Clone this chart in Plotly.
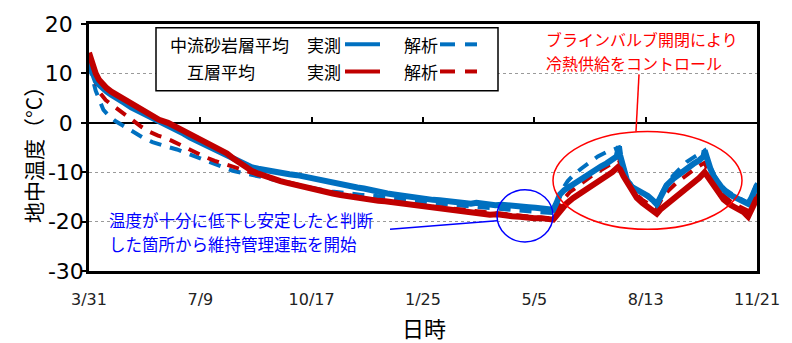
import plotly.graph_objects as go

# ---------------- data (day offset from 3/31, value in °C) ----------------
blue_meas_day = [0, 2, 4, 6, 8, 12, 16, 20, 26, 32, 38, 48, 56, 63, 71, 78, 85, 91, 98, 105, 112, 118, 124, 130, 136, 141,
                 146, 152, 158, 165, 172, 180, 187, 193, 199, 205, 210, 216, 222, 228, 235, 241, 247, 252, 257, 263, 268,
                 274, 279, 285, 291, 297, 303, 309, 315, 321, 327, 333, 338, 343, 348, 353, 359, 365, 371, 377, 383, 389,
                 395, 401, 407, 413, 417, 420, 423, 427, 431, 435, 440, 445, 450, 455, 460, 465, 470, 474, 476, 477, 480,
                 483, 487, 492, 497, 502, 507, 510, 513, 516, 519, 525, 531, 537, 543, 548, 552, 553, 555, 558, 561, 565,
                 570, 576, 582, 588, 592, 595, 598, 600]
blue_meas_val = [12.2, 10.6, 9.3, 8.5, 7.9, 7.0, 6.3, 5.7, 5.0, 4.0, 3.1, 2.0, 1.0, 0.3, -0.4, -1.3, -2.2, -3.0, -3.8, -4.6,
                 -5.3, -5.9, -6.6, -7.4, -8.1, -8.6, -9.0, -9.3, -9.6, -9.9, -10.2, -10.4, -10.6, -10.9, -11.0, -11.4,
                 -11.5, -11.9, -12.2, -12.4, -12.9, -13.1, -13.3, -13.6, -13.8, -14.0, -14.3, -14.5, -14.7, -14.9, -15.0,
                 -15.3, -15.4, -15.6, -15.7, -15.9, -16.0, -16.2, -16.3, -16.4, -16.2, -16.4, -16.5, -16.7, -16.6, -16.8,
                 -16.9, -16.9, -17.1, -17.2, -17.3, -17.4, -17.6, -16.2, -14.5, -13.6, -13.0, -12.4, -11.5, -10.8, -10.2,
                 -9.4, -8.8, -8.2, -7.5, -6.8, -4.8, -6.5, -9.0, -11.5, -12.9, -13.6, -14.0, -14.8, -15.8, -16.5, -15.2,
                 -13.8, -12.6, -11.3, -10.2, -9.2, -8.3, -7.6, -6.8, -5.6, -7.2, -9.2, -10.8, -12.2, -13.6, -14.6, -15.3,
                 -15.9, -16.4, -15.2, -13.8, -12.6]

red_meas_day = [0, 2, 4, 6, 9, 12, 16, 20, 26, 32, 38, 48, 56, 63, 71, 78, 85, 91, 98, 105, 112, 118, 124, 130, 136, 141,
                146, 152, 158, 165, 172, 179, 186, 192, 199, 205, 212, 219, 226, 233, 240, 247, 253, 260, 266, 273, 279,
                286, 293, 300, 307, 315, 322, 329, 335, 342, 348, 354, 360, 367, 373, 380, 387, 393, 400, 406, 412, 417,
                420, 423, 429, 435, 442, 450, 457, 465, 470, 475, 477, 480, 483, 487, 492, 497, 502, 507, 510, 513, 519,
                525, 531, 537, 543, 548, 553, 556, 561, 565, 570, 576, 582, 588, 592, 595, 600]
red_meas_val = [14.2, 12.8, 11.2, 10.0, 8.7, 7.9, 7.0, 6.3, 5.5, 4.5, 3.6, 2.5, 1.4, 0.6, 0.0, -0.8, -1.6, -2.4, -3.2, -4.0,
                -4.7, -5.3, -6.2, -7.3, -8.3, -9.0, -9.7, -10.3, -10.8, -11.3, -11.8, -12.2, -12.6, -13.0, -13.2, -13.6,
                -13.9, -14.3, -14.6, -14.9, -15.1, -15.4, -15.6, -15.8, -15.9, -16.1, -16.3, -16.6, -16.8, -17.0, -17.1,
                -17.4, -17.6, -17.9, -18.1, -18.3, -18.2, -18.4, -18.6, -18.5, -18.8, -18.9, -19.0, -19.2, -19.3, -19.3,
                -19.5, -19.6, -18.8, -17.8, -16.3, -15.2, -14.2, -13.1, -12.0, -10.9, -10.0, -9.0, -9.4, -10.8, -12.0,
                -13.6, -15.2, -16.2, -17.2, -18.0, -18.4, -17.6, -16.5, -15.5, -14.5, -13.4, -12.3, -11.2, -10.0, -11.0,
                -12.8, -14.2, -15.5, -16.6, -17.4, -18.1, -19.0, -17.4, -15.2]

blue_calc_day = [0, 3, 6, 9, 13, 18, 24, 30, 36, 43, 50, 57, 64, 71, 79, 86, 93, 100, 107, 113, 121, 129, 137, 146, 160,
                 175, 190, 205, 218, 230, 245, 258, 270, 285, 300, 320, 340, 360, 380, 400, 417, 420, 425, 430, 435, 442,
                 450, 457, 465, 472, 476, 479, 483, 488, 493, 500, 506, 510, 514, 519, 525, 531, 537, 543, 549, 553, 556,
                 561, 566, 572, 580, 588, 592, 596, 600]
blue_calc_val = [12.0, 9.0, 6.5, 4.8, 2.6, 1.4, 0.3, -0.5, -1.3, -2.3, -3.2, -3.9, -4.5, -4.9, -5.4, -6.0, -6.6, -7.2,
                 -7.8, -8.3, -9.0, -9.7, -10.1, -10.5, -11.2, -12.0, -12.8, -13.4, -13.9, -14.3, -14.6, -14.8, -15.2,
                 -15.6, -16.0, -16.5, -16.9, -17.3, -17.7, -18.0, -18.3, -16.5, -13.5, -11.8, -10.6, -9.3, -7.9, -6.8,
                 -5.9, -5.2, -5.0, -8.0, -11.0, -12.8, -13.8, -14.8, -15.6, -16.1, -14.4, -12.2, -10.6, -9.2, -7.9, -7.0,
                 -6.1, -5.6, -7.6, -10.4, -12.2, -13.6, -14.8, -15.7, -16.2, -14.4, -12.2]

red_calc_day = [0, 3, 6, 10, 15, 19, 26, 33, 40, 47, 55, 62, 68, 75, 82, 90, 97, 104, 113, 121, 129, 137, 146, 160, 175,
                190, 205, 220, 240, 260, 280, 300, 320, 340, 360, 380, 400, 417, 420, 425, 432, 440, 450, 458, 465, 472,
                476, 480, 484, 490, 497, 504, 510, 514, 520, 527, 535, 543, 549, 553, 557, 562, 568, 575, 583, 590, 593,
                597, 600]
red_calc_val = [14.0, 11.0, 8.2, 6.0, 4.6, 3.9, 2.8, 1.6, 0.4, -0.8, -1.9, -2.6, -3.0, -3.7, -4.5, -5.2, -6.0, -6.9, -7.7,
                -8.3, -8.9, -9.5, -10.1, -11.0, -11.9, -12.7, -13.5, -14.2, -15.0, -15.7, -16.3, -16.8, -17.3, -17.8,
                -18.3, -18.7, -19.1, -19.4, -18.0, -15.8, -14.0, -12.6, -11.0, -9.8, -8.8, -7.9, -7.6, -10.0, -12.3,
                -14.2, -15.6, -16.6, -17.3, -15.6, -13.8, -12.3, -10.8, -9.5, -8.6, -8.1, -10.2, -12.6, -14.3, -15.7,
                -16.8, -17.6, -17.9, -16.0, -14.3]

x_tick_days = [0, 100, 200, 300, 400, 500, 600]
x_tick_labels = ["3/31", "7/9", "10/17", "1/25", "5/5", "8/13", "11/21"]
y_tick_vals = [20, 10, 0, -10, -20, -30]
y_tick_labels = ["20\u2002", "10\u2002", "0\u2002", "-10", "-20", "-30"]

series_names = ["中流砂岩層平均", "互層平均"]
kind_names = ["実測", "解析"]

BLUE = "#0070C0"
RED = "#C00000"
JP = "Noto Sans CJK JP"
NUM = "DejaVu Sans"

fig = go.Figure()
fig.add_trace(go.Scatter(x=blue_calc_day, y=blue_calc_val, mode="lines",
                         line=dict(color=BLUE, width=4, dash="12px,9px"), name="中流砂岩層平均 解析"))
fig.add_trace(go.Scatter(x=red_calc_day, y=red_calc_val, mode="lines",
                         line=dict(color=RED, width=4, dash="12px,9px"), name="互層平均 解析"))
fig.add_trace(go.Scatter(x=blue_meas_day, y=blue_meas_val, mode="lines",
                         line=dict(color=BLUE, width=6), name="中流砂岩層平均 実測"))
fig.add_trace(go.Scatter(x=red_meas_day, y=red_meas_val, mode="lines", xaxis="x2",
                         line=dict(color=RED, width=6), name="互層平均 実測"))

L, R, T, B = 89, 35, 16, 72
W, H = 792, 343
pw, ph = W - L - R, H - T - B


def px(xp):
    return (xp - L) / pw


def py(yp):
    return (H - B - yp) / ph


fig.update_layout(
    width=W, height=H, margin=dict(l=L, r=R, t=T, b=B),
    paper_bgcolor="white", plot_bgcolor="white", showlegend=False,
    xaxis=dict(range=[0, 600], tickvals=x_tick_days, ticktext=x_tick_labels, showline=True, mirror=True,
               linecolor="black", linewidth=2.5, ticks="", showgrid=False, zeroline=False,
               tickfont=dict(family=NUM, size=16, color="#222"), ticklabelstandoff=12),
    xaxis2=dict(range=[0, 600], overlaying="x", anchor="free", position=0.6, side="bottom",
                tickvals=x_tick_days, showticklabels=False, ticks="inside", ticklen=6, tickwidth=2,
                tickcolor="black", showline=False, showgrid=False, zeroline=False),
    yaxis=dict(range=[-30, 20], tickvals=y_tick_vals, ticktext=y_tick_labels, showline=True, mirror=True,
               linecolor="black", linewidth=2.5, ticks="outside", ticklen=5, tickwidth=2, tickcolor="black",
               showgrid=True, gridcolor="#9a9a9a", griddash="dot", gridwidth=1,
               zeroline=True, zerolinecolor="black", zerolinewidth=2, ticklabelstandoff=-7,
               tickfont=dict(family=NUM, size=22, color="black")),
)

shapes = []
annots = []


def label(xp, yp, text, size, color, **kw):
    d = dict(x=px(xp), y=py(yp), xref="paper", yref="paper", text=text, showarrow=False,
             xanchor="left", yanchor="middle", font=dict(family=JP, size=size, color=color))
    d.update(kw)
    annots.append(d)


# legend box
shapes.append(dict(type="rect", xref="paper", yref="paper", x0=px(156), x1=px(498), y0=py(85), y1=py(20),
                   line=dict(color="black", width=1.5), fillcolor="white", layer="above"))
rows = [(37, BLUE), (65, RED)]
name_left = [168, 185]
for i, (yp, col) in enumerate(rows):
    label(name_left[i], yp, series_names[i], 17, "black")
    label(305, yp, kind_names[0], 17, "black")
    label(402, yp, kind_names[1], 17, "black")
    shapes.append(dict(type="line", xref="paper", yref="paper", x0=px(345), x1=px(380), y0=py(yp), y1=py(yp),
                       line=dict(color=col, width=4)))
    for a, b in [(440, 455), (465, 477)]:
        shapes.append(dict(type="line", xref="paper", yref="paper", x0=px(a), x1=px(b), y0=py(yp), y1=py(yp),
                           line=dict(color=col, width=4)))

# red callout
shapes.append(dict(type="circle", xref="paper", yref="paper", x0=px(553), x1=px(742), y0=py(228), y1=py(127),
                   line=dict(color="#FF0000", width=1.5)))
shapes.append(dict(type="line", xref="paper", yref="paper", x0=px(636), x1=px(639), y0=py(127), y1=py(68),
                   line=dict(color="#FF0000", width=1.5)))
label(544, 31, "ブラインバルブ開閉により", 16, "#FF0000")
label(544, 56, "冷熱供給をコントロール", 16, "#FF0000")

# blue callout
shapes.append(dict(type="circle", xref="paper", yref="paper", x0=px(497), x1=px(553), y0=py(241), y1=py(187),
                   line=dict(color="#0000FF", width=1.5)))
shapes.append(dict(type="line", xref="paper", yref="paper", x0=px(390), x1=px(497), y0=py(228), y1=py(219),
                   line=dict(color="#0000FF", width=1.5)))
label(107, 218, "温度が十分に低下し安定したと判断", 16.5, "#0000FF")
label(107, 243, "した箇所から維持管理運転を開始", 16.5, "#0000FF")

# axis titles
label(33, 146, "地中温度（°C）", 21, "black", textangle=-90, xanchor="center")
label(424, 329, "日時", 22, "black", xanchor="center")

fig.update_layout(shapes=shapes, annotations=annots)
fig.write_html("out.html")
